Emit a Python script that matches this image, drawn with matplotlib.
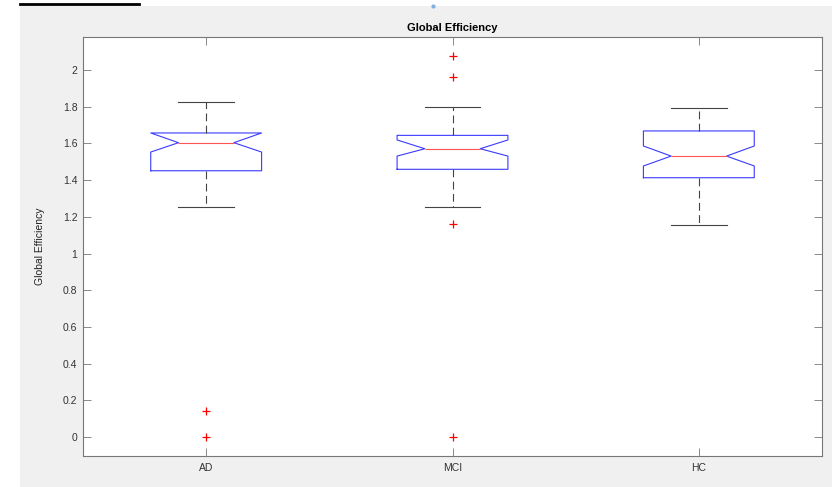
import matplotlib
matplotlib.use("Agg")
import matplotlib.pyplot as plt
from matplotlib.patches import Rectangle
from matplotlib.lines import Line2D

plt.rcParams['font.family'] = ['Liberation Sans', 'DejaVu Sans']

groups = ["AD", "MCI", "HC"]
whisker_low = [1.255, 1.255, 1.155]
q1 = [1.451, 1.459, 1.413]
median = [1.604, 1.571, 1.531]
q3 = [1.657, 1.644, 1.668]
whisker_high = [1.824, 1.800, 1.791]
notch_low = [1.553, 1.531, 1.477]
notch_high = [1.657, 1.619, 1.586]
outliers = [[0.14, 0.0], [2.078, 1.963, 1.159, 0.0], []]
yticks = [0, 0.2, 0.4, 0.6, 0.8, 1, 1.2, 1.4, 1.6, 1.8, 2]

W, H = 832, 487
fig = plt.figure(figsize=(W / 100, H / 100), dpi=100, facecolor="white")

# gray MATLAB figure background
fig.patches.append(Rectangle((20 / W, 0), 1 - 20 / W, 1 - 6 / H, transform=fig.transFigure,
                             facecolor="#f0f0f0", edgecolor="none", zorder=-10))
fig.lines.append(Line2D([20 / W, 139 / W], [1 - 4 / H, 1 - 4 / H], transform=fig.transFigure,
                        color="black", lw=2))
fig.lines.append(Line2D([433 / W], [1 - 6 / H], transform=fig.transFigure, marker="o",
                        markersize=2, color="#7fb0e0", lw=0))

ax = fig.add_axes([83 / W, 31 / H, (822 - 83) / W, (456 - 37) / H])
ax.set_facecolor("white")

stats = []
for i, g in enumerate(groups):
    stats.append(dict(label=g, med=median[i], q1=q1[i], q3=q3[i],
                      whislo=whisker_low[i], whishi=whisker_high[i],
                      cilo=notch_low[i], cihi=notch_high[i], fliers=outliers[i]))

ax.bxp(stats, positions=[1, 2, 3], widths=0.45, shownotches=True,
       boxprops=dict(color="#3a3aff", lw=0.8),
       medianprops=dict(color="#ff5555", lw=0.8, zorder=5),
       whiskerprops=dict(color="#444444", lw=0.8, linestyle=(0, (7, 4))),
       capprops=dict(color="#444444", lw=0.8),
       flierprops=dict(marker="+", markeredgecolor="red", markersize=5.5, markeredgewidth=0.9,
                       linestyle="none"))

ax.set_xlim(0.5, 3.5)
ax.set_ylim(-0.1035, 2.18)
ax.set_yticks(yticks)
ax.set_yticklabels([f"{v:g}" for v in yticks])
ax.set_xticks([1, 2, 3])
ax.set_xticklabels(groups)

for s in ax.spines.values():
    s.set_color("#777777")
    s.set_linewidth(0.8)
ax.tick_params(direction="in", length=6, width=0.6, color="#777777",
               labelsize=7.5, labelcolor="#333333", top=True, right=True)
ax.tick_params(axis="y", pad=4)
ax.tick_params(axis="x", pad=5)

ax.set_title("Global Efficiency", fontsize=8, fontweight="bold", pad=4, color="black")
ax.set_ylabel("Global Efficiency", fontsize=7.5, color="#222222", labelpad=13)

fig.savefig("out.png", dpi=100, facecolor="white")
